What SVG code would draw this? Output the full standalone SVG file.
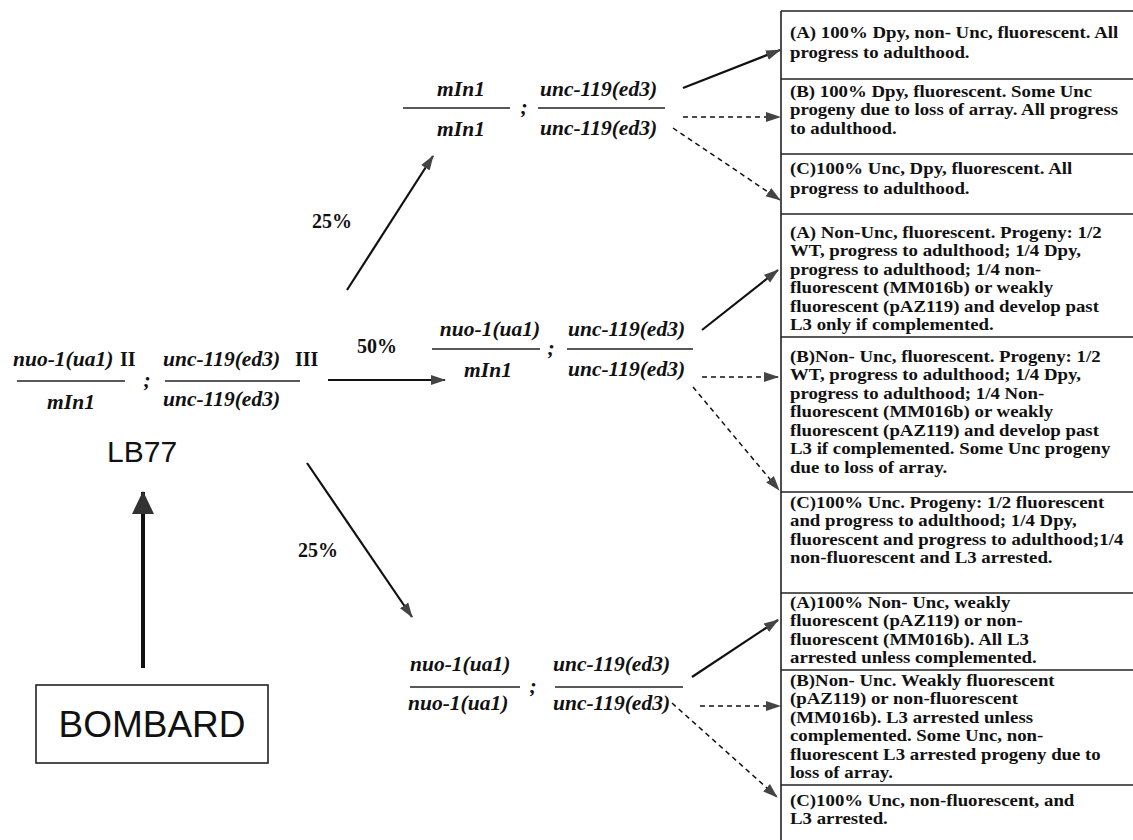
<svg xmlns="http://www.w3.org/2000/svg" width="1133" height="840" viewBox="0 0 1133 840">
<defs>
<style>
.g{font-family:"Liberation Serif","Times New Roman",serif;font-weight:bold;font-style:italic;font-size:21.5px;fill:#111}
.gn{font-family:"Liberation Serif","Times New Roman",serif;font-weight:bold;font-size:20px;fill:#111}
.pc{font-family:"Liberation Serif","Times New Roman",serif;font-weight:bold;font-size:20px;fill:#111}
.bx{font-family:"Liberation Serif","Times New Roman",serif;font-weight:bold;font-size:16.5px;fill:#111;white-space:pre}
.sans{font-family:"Liberation Sans",Arial,sans-serif;fill:#111}
.fr{stroke:#222;stroke-width:1.6;fill:none}
.bl{stroke:#222;stroke-width:1.6;fill:none}
.sol{stroke:#111;stroke-width:2.2;fill:none;marker-end:url(#ah)}
.dsh{stroke:#111;stroke-width:1.5;fill:none;stroke-dasharray:5 4;marker-end:url(#ah)}
</style>
<marker id="ah" markerUnits="userSpaceOnUse" markerWidth="16" markerHeight="12" refX="14" refY="6" orient="auto">
<path d="M0,1 L15,6 L0,11 z" fill="#444"/>
</marker>
<marker id="big" markerUnits="userSpaceOnUse" markerWidth="24" markerHeight="24" refX="22" refY="11" orient="auto">
<path d="M0,0 L23,11 L0,22 z" fill="#333"/>
</marker>
</defs>
<rect width="1133" height="840" fill="#fff"/>

<g id="connectors">
<line x1="347" y1="290" x2="433" y2="156" class="sol"/>
<line x1="328" y1="380" x2="445" y2="380" class="sol"/>
<line x1="307" y1="463" x2="412" y2="617" class="sol"/>
<line x1="143" y1="668" x2="143" y2="492" stroke="#111" stroke-width="4" marker-end="url(#big)"/>
<line x1="683" y1="88" x2="780" y2="50" class="sol"/>
<line x1="683" y1="117" x2="780" y2="117" class="dsh"/>
<line x1="673" y1="128" x2="780" y2="200" class="dsh"/>
<line x1="702" y1="330" x2="778" y2="270" class="sol"/>
<line x1="702" y1="377" x2="778" y2="377" class="dsh"/>
<line x1="693" y1="387" x2="779" y2="490" class="dsh"/>
<line x1="692" y1="677" x2="778" y2="620" class="sol"/>
<line x1="700" y1="706" x2="780" y2="706" class="dsh"/>
<line x1="672" y1="703" x2="777" y2="797" class="dsh"/>
</g>

<g id="parent">
<text x="13" y="366" class="g">nuo-1(ua1)</text>
<text x="120" y="366" class="gn">II</text>
<line x1="17" y1="381" x2="125" y2="381" class="fr"/>
<text x="71" y="409" class="g" text-anchor="middle">mIn1</text>
<text x="147" y="387" class="g" text-anchor="middle">;</text>
<text x="163" y="366" class="g">unc-119(ed3)</text>
<text x="295" y="366" class="gn">III</text>
<line x1="165" y1="381" x2="300" y2="381" class="fr"/>
<text x="163" y="406" class="g">unc-119(ed3)</text>
</g>

<g id="lb77">
<text x="107" y="462" class="sans" font-size="30">LB77</text>
</g>

<g id="bombard">
<rect x="36" y="685" width="232" height="78" class="bl"/>
<text x="152" y="737" class="sans" font-size="37" text-anchor="middle">BOMBARD</text>
</g>

<g id="labels">
<text x="312" y="228" class="pc">25%</text>
<text x="357" y="353" class="pc">50%</text>
<text x="298" y="557" class="pc">25%</text>
</g>

<g id="geno-top">
<text x="461" y="96" class="g" text-anchor="middle">mIn1</text>
<line x1="403" y1="108" x2="510" y2="108" class="fr"/>
<text x="461" y="136" class="g" text-anchor="middle">mIn1</text>
<text x="524" y="114" class="g" text-anchor="middle">;</text>
<text x="540" y="96" class="g">unc-119(ed3)</text>
<line x1="538" y1="108" x2="665" y2="108" class="fr"/>
<text x="540" y="135" class="g">unc-119(ed3)</text>
</g>

<g id="geno-mid">
<text x="490" y="336" class="g" text-anchor="middle">nuo-1(ua1)</text>
<line x1="432" y1="349" x2="540" y2="349" class="fr"/>
<text x="488" y="377" class="g" text-anchor="middle">mIn1</text>
<text x="551" y="355" class="g" text-anchor="middle">;</text>
<text x="568" y="336" class="g">unc-119(ed3)</text>
<line x1="567" y1="349" x2="693" y2="349" class="fr"/>
<text x="568" y="376" class="g">unc-119(ed3)</text>
</g>

<g id="geno-bot">
<text x="410" y="671" class="g">nuo-1(ua1)</text>
<line x1="410" y1="687" x2="520" y2="687" class="fr"/>
<text x="408" y="710" class="g">nuo-1(ua1)</text>
<text x="533" y="693" class="g" text-anchor="middle">;</text>
<text x="553" y="671" class="g">unc-119(ed3)</text>
<line x1="555" y1="687" x2="683" y2="687" class="fr"/>
<text x="553" y="710" class="g">unc-119(ed3)</text>
</g>

<g id="boxes-frame">
<line x1="781" y1="11" x2="781" y2="840" class="bl"/>
<line x1="781" y1="11" x2="1133" y2="11" class="bl"/>
<line x1="781" y1="79" x2="1133" y2="79" class="bl"/>
<line x1="781" y1="154" x2="1133" y2="154" class="bl"/>
<line x1="781" y1="214" x2="1133" y2="214" class="bl"/>
<line x1="781" y1="337" x2="1133" y2="337" class="bl"/>
<line x1="781" y1="492" x2="1133" y2="492" class="bl"/>
<line x1="781" y1="593" x2="1133" y2="593" class="bl"/>
<line x1="781" y1="670" x2="1133" y2="670" class="bl"/>
<line x1="781" y1="785" x2="1133" y2="785" class="bl"/>
</g>

<g id="box-A1" class="bx" transform="matrix(1.14 0 0 1 -110.6 0)">
<text x="790" y="38">(A) 100% Dpy, non- Unc, fluorescent. All</text>
<text x="790" y="58">progress to adulthood.</text>
</g>
<g id="box-B1" class="bx" transform="matrix(1.14 0 0 1 -110.6 0)">
<text x="790" y="97">(B) 100% Dpy, fluorescent. Some Unc</text>
<text x="790" y="115.5">progeny due to loss of array. All progress</text>
<text x="790" y="134">to adulthood.</text>
</g>
<g id="box-C1" class="bx" transform="matrix(1.14 0 0 1 -110.6 0)">
<text x="790" y="174">(C)100% Unc, Dpy, fluorescent. All</text>
<text x="790" y="194">progress to adulthood.</text>
</g>
<g id="box-A2" class="bx" transform="matrix(1.14 0 0 1 -110.6 0)">
<text x="790" y="238">(A) Non-Unc, fluorescent. Progeny: 1/2</text>
<text x="790" y="256.5">WT, progress to adulthood; 1/4 Dpy,</text>
<text x="790" y="275">progress to adulthood; 1/4 non-</text>
<text x="790" y="293.5">fluorescent (MM016b) or weakly</text>
<text x="790" y="312">fluorescent (pAZ119) and develop past</text>
<text x="790" y="330.5">L3  only if complemented.</text>
</g>
<g id="box-B2" class="bx" transform="matrix(1.14 0 0 1 -110.6 0)">
<text x="790" y="362">(B)Non- Unc, fluorescent. Progeny: 1/2</text>
<text x="790" y="380.5">WT, progress to adulthood; 1/4 Dpy,</text>
<text x="790" y="399">progress to adulthood; 1/4 Non-</text>
<text x="790" y="417.5">fluorescent (MM016b) or weakly</text>
<text x="790" y="436">fluorescent (pAZ119) and develop past</text>
<text x="790" y="454.5">L3 if complemented. Some Unc progeny</text>
<text x="790" y="473">due to loss of array.</text>
</g>
<g id="box-C2" class="bx" transform="matrix(1.14 0 0 1 -110.6 0)">
<text x="790" y="508">(C)100% Unc. Progeny: 1/2 fluorescent</text>
<text x="790" y="526.5">and progress to adulthood; 1/4 Dpy,</text>
<text x="790" y="545">fluorescent and progress to adulthood;1/4</text>
<text x="790" y="563.5">non-fluorescent and L3 arrested.</text>
</g>
<g id="box-A3" class="bx" transform="matrix(1.14 0 0 1 -110.6 0)">
<text x="790" y="608">(A)100% Non- Unc, weakly</text>
<text x="790" y="626.5">fluorescent (pAZ119) or non-</text>
<text x="790" y="645">fluorescent (MM016b).  All L3</text>
<text x="790" y="663.5">arrested unless complemented.</text>
</g>
<g id="box-B3" class="bx" transform="matrix(1.14 0 0 1 -110.6 0)">
<text x="790" y="686">(B)Non- Unc. Weakly fluorescent</text>
<text x="790" y="704.5">(pAZ119) or non-fluorescent</text>
<text x="790" y="723">(MM016b). L3 arrested unless</text>
<text x="790" y="741.5">complemented. Some Unc, non-</text>
<text x="790" y="760">fluorescent L3 arrested progeny due to</text>
<text x="790" y="778.5">loss of array.</text>
</g>
<g id="box-C3" class="bx" transform="matrix(1.14 0 0 1 -110.6 0)">
<text x="790" y="806">(C)100% Unc, non-fluorescent, and</text>
<text x="790" y="824.5">L3 arrested.</text>
</g>
</svg>
